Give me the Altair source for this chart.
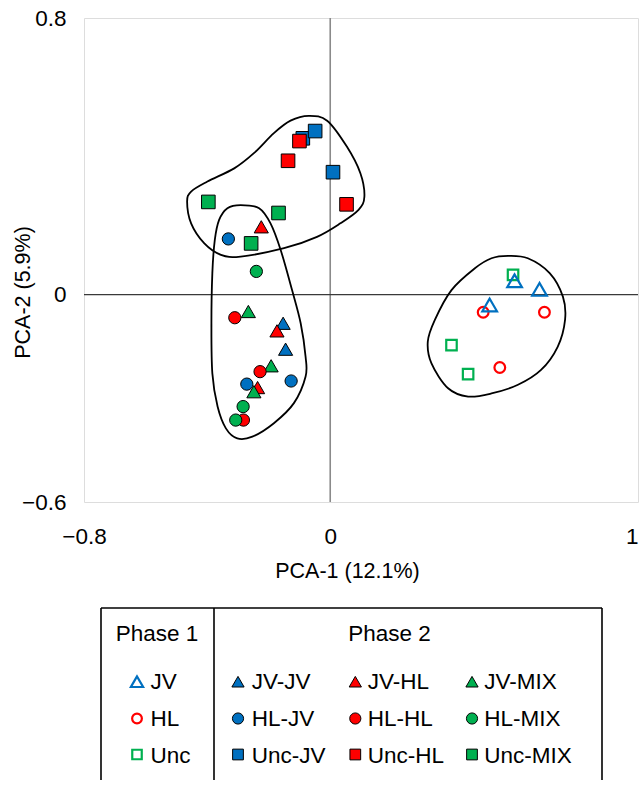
import altair as alt
import pandas as pd

BLUE, RED, GREEN = "#0070C0", "#FF0000", "#00B050"
FONT = "Liberation Sans"

# ---------------- data ----------------
# Phase 1 groups (open symbols)
jv_x = [0.599, 0.680, 0.518]
jv_y = [0.040, 0.015, -0.030]
hl_x = [0.497, 0.696, 0.551]
hl_y = [-0.051, -0.051, -0.211]
unc_x = [0.594, 0.394, 0.448]
unc_y = [0.057, -0.146, -0.230]

# Phase 2 groups (filled symbols)
jvjv_x = [-0.153, -0.145]
jvjv_y = [-0.083, -0.158]
jvhl_x = [-0.224, -0.173, -0.236]
jvhl_y = [0.196, -0.105, -0.269]
jvmix_x = [-0.266, -0.192, -0.248]
jvmix_y = [-0.049, -0.206, -0.281]
hljv_x = [-0.331, -0.127, -0.271]
hljv_y = [0.161, -0.250, -0.259]
hlhl_x = [-0.310, -0.228, -0.282]
hlhl_y = [-0.067, -0.223, -0.363]
hlmix_x = [-0.240, -0.283, -0.307]
hlmix_y = [0.067, -0.324, -0.363]
uncjv_x = [-0.089, -0.049, 0.009]
uncjv_y = [0.452, 0.473, 0.354]
unchl_x = [-0.100, -0.137, 0.053]
unchl_y = [0.444, 0.387, 0.261]
uncmix_x = [-0.396, -0.168, -0.257]
uncmix_y = [0.268, 0.236, 0.148]

# Hand-drawn cluster outlines
hull_upper_x = [-0.465, -0.452, -0.399, -0.312, -0.248, -0.183, -0.129, -0.070, -0.010, 0.054,
                0.098, 0.111, 0.092, 0.033, -0.043, -0.150, -0.291, -0.355, -0.409, -0.452]
hull_upper_y = [0.269, 0.298, 0.327, 0.365, 0.409, 0.467, 0.503, 0.517, 0.503, 0.428,
                0.351, 0.283, 0.245, 0.206, 0.167, 0.134, 0.110, 0.115, 0.148, 0.206]
hull_left_x = [-0.291, -0.334, -0.361, -0.375, -0.383, -0.386, -0.383, -0.366, -0.339, -0.302,
               -0.253, -0.183, -0.118, -0.080, -0.080, -0.096, -0.124, -0.161, -0.194, -0.231]
hull_left_y = [0.259, 0.250, 0.216, 0.158, 0.062, -0.083, -0.228, -0.324, -0.387, -0.416,
               -0.411, -0.372, -0.314, -0.237, -0.180, -0.083, 0.013, 0.129, 0.206, 0.250]
hull_right_x = [0.578, 0.642, 0.713, 0.756, 0.763, 0.739, 0.685, 0.610, 0.524, 0.448,
                0.383, 0.329, 0.317, 0.340, 0.394, 0.470, 0.524]
hull_right_y = [0.112, 0.105, 0.062, -0.006, -0.073, -0.151, -0.218, -0.261, -0.286, -0.295,
                -0.271, -0.199, -0.136, -0.073, 0.013, 0.076, 0.105]

x_ticks = [-0.8, 0, 1]
y_ticks = [-0.6, 0, 0.8]
x_title = "PCA-1 (12.1%)"
y_title = "PCA-2 (5.9%)"

phase1_labels = ["JV", "HL", "Unc"]
phase2_labels = [["JV-JV", "JV-HL", "JV-MIX"],
                 ["HL-JV", "HL-HL", "HL-MIX"],
                 ["Unc-JV", "Unc-HL", "Unc-MIX"]]

# ---------------- scatter panel ----------------
W, H = 554, 484
LBL, TTL, LEG = 22.5, 21.5, 22.5
xsc = alt.Scale(domain=[-0.8, 1], nice=False, zero=False)
ysc = alt.Scale(domain=[-0.6, 0.8], nice=False, zero=False)
xaxis = alt.Axis(values=x_ticks, format=".1~f", ticks=False, domain=False, grid=False,
                 labelFlush=False, labelOverlap=False, labelFontSize=LBL, labelPadding=23,
                 labelColor="black",
                 labelAlign={"condition": {"test": "datum.value >= 1", "value": "right"},
                             "value": "center"},
                 title=x_title, titleFontSize=TTL, titleFontWeight="normal", titleColor="black",
                 titleX=263, titleY=75.5, titleAlign="center", titleBaseline="alphabetic")
yaxis = alt.Axis(values=y_ticks, format=".1~f", ticks=False, domain=False, grid=False,
                 labelFlush=False, labelOverlap=False, labelFontSize=LBL, labelPadding=18,
                 labelColor="black",
                 title=y_title, titleFontSize=TTL, titleFontWeight="normal", titleColor="black",
                 titleX=-54.5, titleY=274, titleBaseline="alphabetic")

def enc(ch):
    return ch.encode(x=alt.X("x:Q", scale=xsc, axis=xaxis), y=alt.Y("y:Q", scale=ysc, axis=yaxis))

vline = alt.Chart(pd.DataFrame({"x": [0.0]})).mark_rule(color="#8a8a8a", strokeWidth=1.6).encode(
    x=alt.X("x:Q", scale=xsc, axis=xaxis))
hline = alt.Chart(pd.DataFrame({"y": [0.0]})).mark_rule(color="#3a3a3a", strokeWidth=1.2).encode(
    y=alt.Y("y:Q", scale=ysc, axis=yaxis))

hull_rows = []
for name, hx, hy in [("upper", hull_upper_x, hull_upper_y),
                     ("left", hull_left_x, hull_left_y),
                     ("right", hull_right_x, hull_right_y)]:
    for i, (a, b) in enumerate(zip(hx, hy)):
        hull_rows.append({"hull": name, "i": i, "x": a, "y": b})
hulls = alt.Chart(pd.DataFrame(hull_rows)).mark_line(
    interpolate="cardinal-closed", color="black", strokeWidth=1.8).encode(
    x=alt.X("x:Q", scale=xsc, axis=xaxis), y=alt.Y("y:Q", scale=ysc, axis=yaxis),
    detail="hull:N", order="i:Q")

SHAPE = {"tri": "triangle-up", "cir": "circle", "sq": "square"}
OPEN_SIZE = {"tri": 215, "cir": 115, "sq": 110}
FILL_SIZE = {"tri": 200, "cir": 150, "sq": 185}

def open_pts(xs, ys, shp, col):
    d = pd.DataFrame({"x": xs, "y": ys})
    return enc(alt.Chart(d).mark_point(shape=SHAPE[shp], filled=False, stroke=col, strokeWidth=2.2,
                                       size=OPEN_SIZE[shp], opacity=1))

def fill_pts(xs, ys, shp, col):
    d = pd.DataFrame({"x": xs, "y": ys})
    return enc(alt.Chart(d).mark_point(shape=SHAPE[shp], filled=True, fill=col, stroke="black",
                                       strokeWidth=1, size=FILL_SIZE[shp], opacity=1))

layers = [vline, hline, hulls,
          open_pts(unc_x, unc_y, "sq", GREEN),
          open_pts(hl_x, hl_y, "cir", RED),
          open_pts(jv_x, jv_y, "tri", BLUE),
          fill_pts(jvjv_x, jvjv_y, "tri", BLUE),
          fill_pts(jvhl_x, jvhl_y, "tri", RED),
          fill_pts(jvmix_x, jvmix_y, "tri", GREEN),
          fill_pts(hljv_x, hljv_y, "cir", BLUE),
          fill_pts(hlhl_x, hlhl_y, "cir", RED),
          fill_pts(hlmix_x, hlmix_y, "cir", GREEN),
          fill_pts(uncjv_x, uncjv_y, "sq", BLUE),
          fill_pts(unchl_x, unchl_y, "sq", RED),
          fill_pts(uncmix_x, uncmix_y, "sq", GREEN)]
scatter = alt.layer(*layers).properties(width=W, height=H)

# ---------------- legend panel (a boxed table) ----------------
LW, LH = W, 172
box_l, box_r, box_div = 17, 518, 130
hdr_y = 33.3
row_text_y = [81.3, 118.0, 154.7]
row_mark_y = [73.7, 110.5, 146.5]
p1_mark_x, p1_text_x = 53, 66.5
p2_mark_x = [154, 271.3, 388]
p2_text_x = [167.7, 283.7, 400.3]
colors = [BLUE, RED, GREEN]
shapes = ["tri", "cir", "sq"]

lx = alt.Scale(domain=[0, LW], nice=False, zero=False)
ly = alt.Scale(domain=[0, LH], nice=False, zero=False, reverse=True)

segs = pd.DataFrame({"x": [box_l, box_r, box_div, box_l],
                     "x2": [box_l, box_r, box_div, box_r],
                     "y": [0, 0, 0, 0],
                     "y2": [LH, LH, LH, 0]})
box = alt.Chart(segs).mark_rule(color="black", strokeWidth=1.6).encode(
    x=alt.X("x:Q", scale=lx, axis=None), x2="x2:Q",
    y=alt.Y("y:Q", scale=ly, axis=None), y2="y2:Q")

txt_rows = [{"t": "Phase 1", "x": (box_l + box_div) / 2 - 0.5, "y": hdr_y, "a": "center"},
            {"t": "Phase 2", "x": (box_div + box_r) / 2 - 18.5, "y": hdr_y, "a": "center"}]
for r, lab in enumerate(phase1_labels):
    txt_rows.append({"t": lab, "x": p1_text_x, "y": row_text_y[r], "a": "left"})
for r in range(3):
    for c in range(3):
        txt_rows.append({"t": phase2_labels[r][c], "x": p2_text_x[c], "y": row_text_y[r], "a": "left"})
tdf = pd.DataFrame(txt_rows)
hdr_text = alt.Chart(tdf[tdf.a == "center"]).mark_text(
    fontSize=LEG, align="center", baseline="alphabetic", color="black", font=FONT).encode(
    x=alt.X("x:Q", scale=lx, axis=None), y=alt.Y("y:Q", scale=ly, axis=None), text="t:N")
lab_text = alt.Chart(tdf[tdf.a == "left"]).mark_text(
    fontSize=LEG, align="left", baseline="alphabetic", color="black", font=FONT).encode(
    x=alt.X("x:Q", scale=lx, axis=None), y=alt.Y("y:Q", scale=ly, axis=None), text="t:N")

LEG_OPEN_SIZE = {"tri": 150, "cir": 95, "sq": 90}
LEG_FILL_SIZE = {"tri": 150, "cir": 125, "sq": 115}
om = pd.DataFrame({"x": [p1_mark_x] * 3, "y": row_mark_y,
                   "shp": [SHAPE[s] for s in shapes], "col": colors,
                   "sz": [LEG_OPEN_SIZE[s] for s in shapes]})
open_marks = alt.Chart(om).mark_point(filled=False, strokeWidth=2.2, opacity=1).encode(
    x=alt.X("x:Q", scale=lx, axis=None), y=alt.Y("y:Q", scale=ly, axis=None),
    shape=alt.Shape("shp:N", scale=None), stroke=alt.Stroke("col:N", scale=None),
    size=alt.Size("sz:Q", scale=None))
fm_rows = []
for r in range(3):
    for c in range(3):
        fm_rows.append({"x": p2_mark_x[c], "y": row_mark_y[r], "shp": SHAPE[shapes[r]],
                        "col": colors[c], "sz": LEG_FILL_SIZE[shapes[r]]})
fill_marks = alt.Chart(pd.DataFrame(fm_rows)).mark_point(
    filled=True, stroke="black", strokeWidth=1, opacity=1).encode(
    x=alt.X("x:Q", scale=lx, axis=None), y=alt.Y("y:Q", scale=ly, axis=None),
    shape=alt.Shape("shp:N", scale=None), fill=alt.Fill("col:N", scale=None),
    size=alt.Size("sz:Q", scale=None))

legend = alt.layer(box, hdr_text, lab_text, open_marks, fill_marks).properties(
    width=LW, height=LH, view=alt.ViewBackground(strokeWidth=0, strokeOpacity=0))

chart = alt.vconcat(scatter, legend, spacing=24).properties(
    padding={"left": 12, "top": 6, "right": 0, "bottom": 0}
).configure_view(stroke="black", strokeWidth=1.5).configure(font=FONT, background="white")

chart.save("out.html", embed_options={"renderer": "svg", "actions": False})
